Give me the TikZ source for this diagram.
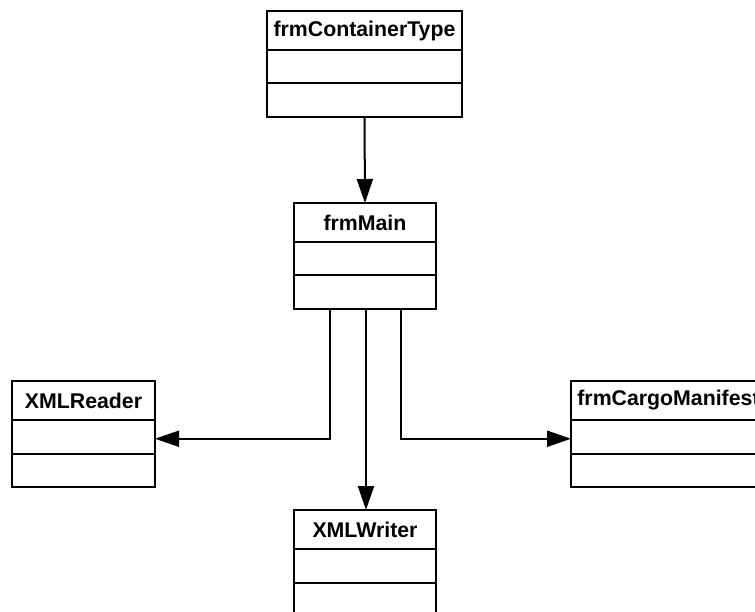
\documentclass[tikz,border=0pt]{standalone}
\usepackage{fontspec}
\setmainfont{Liberation Sans}
\usetikzlibrary{positioning,arrows.meta}

\tikzset{
  classhead/.style={draw, line width=2pt, outer sep=0pt, inner sep=0pt,
    minimum height=39pt, font=\fontsize{21.3}{24}\selectfont\bfseries},
  classpart/.style={draw, line width=2pt, outer sep=0pt, inner sep=0pt,
    minimum height=33.5pt},
  arr/.style={line width=2pt, -{Triangle[length=24pt,width=16pt]}}
}

\begin{document}
\begin{tikzpicture}[x=1pt,y=-1pt]
\useasboundingbox (0,0) rectangle (755,612);
\clip (0,0) rectangle (755,612);

\begin{scope}
\node[classhead, minimum width=195pt, anchor=north] (ct) at (364.5,11) {frmContainerType};
\node[classpart, minimum width=195pt, below=0pt of ct] (ct1) {};
\node[classpart, minimum width=195pt, below=0pt of ct1] (ct2) {};

\node[classhead, minimum width=142pt, anchor=north] (main) at (365,203) {frmMain};
\node[classpart, minimum width=142pt, below=0pt of main] (main1) {};
\node[classpart, minimum width=142pt, below=0pt of main1] (main2) {};

\node[classhead, minimum width=143pt, anchor=north] (reader) at (83.5,381) {XMLReader};
\node[classpart, minimum width=143pt, below=0pt of reader] (reader1) {};
\node[classpart, minimum width=143pt, below=0pt of reader1] (reader2) {};

\node[classhead, minimum width=195pt, anchor=north west] (cargo) at (571,381) {frmCargoManifest};
\node[classpart, minimum width=195pt, below=0pt of cargo] (cargo1) {};
\node[classpart, minimum width=195pt, below=0pt of cargo1] (cargo2) {};

\node[classhead, minimum width=142pt, anchor=north] (writer) at (365,510) {XMLWriter};
\node[classpart, minimum width=142pt, below=0pt of writer] (writer1) {};
\node[classpart, minimum width=142pt, below=0pt of writer1] (writer2) {};
\end{scope}

\draw[arr] (ct2.south) -- (main.north);
\draw[arr] ([xshift=-35pt]main2.south) |- ([yshift=-2pt]reader1.east);
\draw[arr] ([xshift=1pt]main2.south) -- ([xshift=1pt]writer.north);
\draw[arr] ([xshift=36pt]main2.south) |- ([yshift=-2pt]cargo1.west);

\end{tikzpicture}
\end{document}
